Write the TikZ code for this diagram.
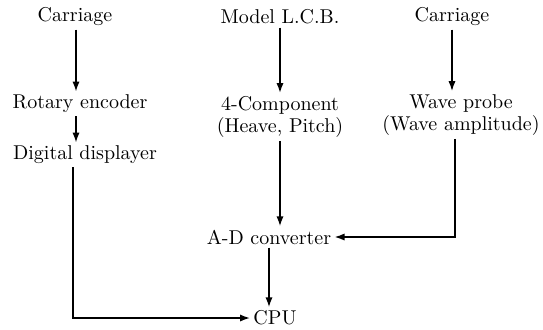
\documentclass[tikz,border=0pt]{standalone}
\usepackage{tikz}
\usetikzlibrary{arrows.meta, positioning, calc}

\begin{document}
\begin{tikzpicture}[
        x=0.5pt, y=-0.5pt,
        item/.style={inner sep=1.5pt, align=center, font=\normalsize},
        arrow/.style={-{Latex[length=5pt, width=3.6pt]}, line width=0.8pt}
    ]
        \useasboundingbox (0,0) rectangle (543,329);
        \node[item] (carriageL) at (75, 17) {Carriage};
        \node[item] (rotary) at (80, 104) {Rotary encoder};
        \node[item] (display) at (85, 155) {Digital displayer};
        \node[item] (model) at (280, 17) {Model L.C.B.};
        \node[item] (comp) at (280, 117) {4-Component\\[-1pt](Heave, Pitch)};
        \node[item] (carriageR) at (452, 17) {Carriage};
        \node[item] (probe) at (461, 115) {Wave probe\\[-1pt](Wave amplitude)};
        \node[item] (adc) at (269, 237) {A-D converter};
        \node[item] (cpu) at (275, 318) {CPU};
        
        \draw[arrow] ([xshift=0.5pt]carriageL.south) -- ([xshift=0.5pt]carriageL.south |- rotary.north);
        \draw[arrow] ([xshift=0.5pt]carriageL.south |- rotary.south) -- ([xshift=0.5pt]carriageL.south |- display.north);
        \draw[arrow] ([xshift=-6pt]display.south) |- (cpu.west);
        \draw[arrow] (model) -- (comp);
        \draw[arrow] (comp.south) -- (comp.south |- adc.north);
        \draw[arrow] (adc.south) -- (adc.south |- cpu.north);
        \draw[arrow] (carriageR) -- (carriageR |- probe.north);
        \draw[arrow] ([xshift=-3pt]probe.south) |- (adc.east);
    \end{tikzpicture}
\end{document}
